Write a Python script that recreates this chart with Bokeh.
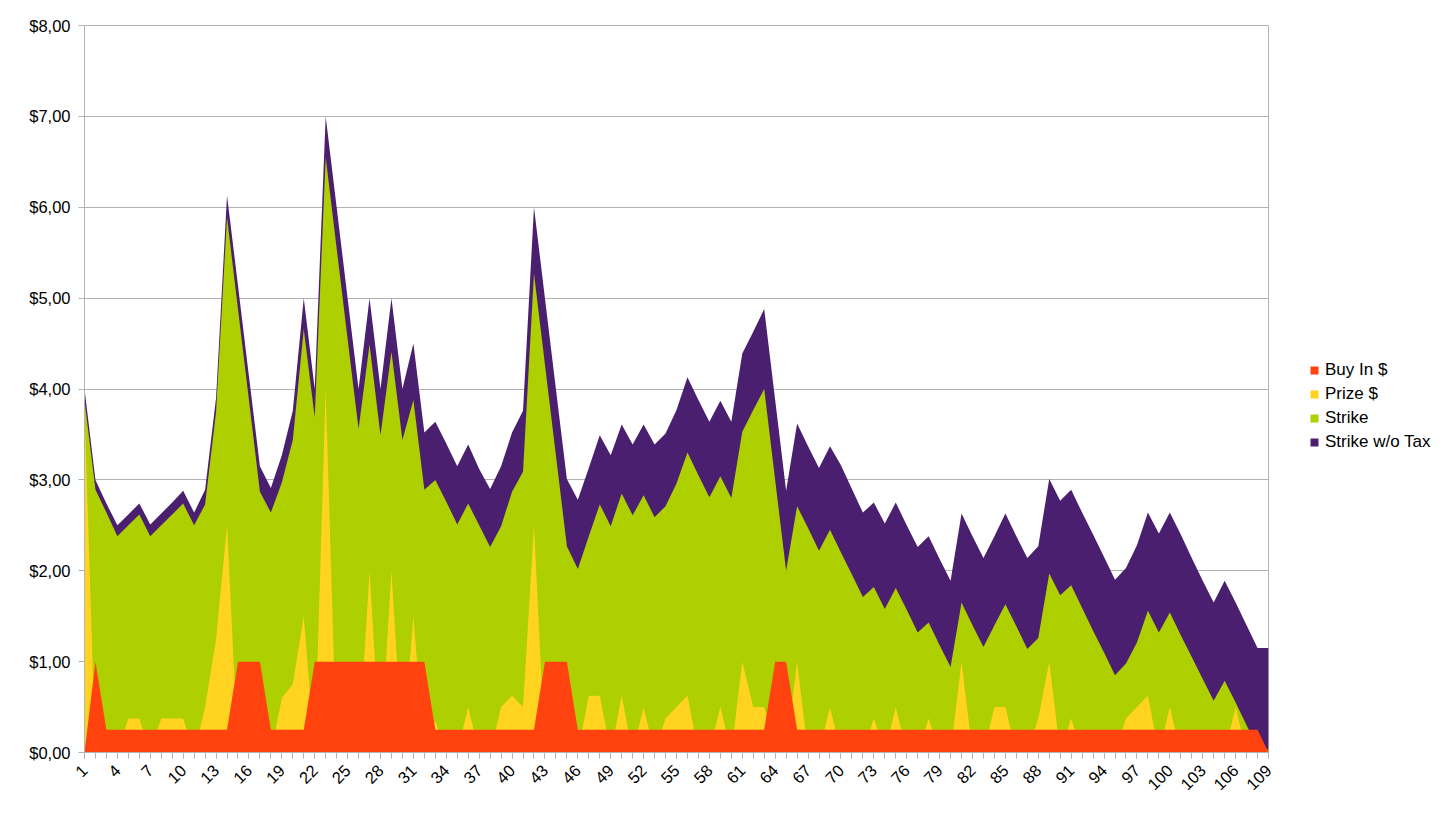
from bokeh.plotting import figure
from bokeh.models import Range1d, FixedTicker, Legend, LegendItem
from bokeh.embed import file_html
from bokeh.resources import INLINE
import math

categories = list(range(1, 110))

x_tick_positions = [1, 4, 7, 10, 13, 16, 19, 22, 25, 28, 31, 34, 37, 40, 43, 46, 49, 52, 55,
                    58, 61, 64, 67, 70, 73, 76, 79, 82, 85, 88, 91, 94, 97, 100, 103, 106, 109]
y_tick_values = [0, 1, 2, 3, 4, 5, 6, 7, 8]
y_tick_labels = ["$0,00", "$1,00", "$2,00", "$3,00", "$4,00", "$5,00", "$6,00", "$7,00", "$8,00"]

strike_wo_tax = [
    4.00, 3.00, 2.74, 2.50, 2.62, 2.74, 2.51, 2.63, 2.75, 2.88,
    2.64, 2.89, 3.90, 6.13, 5.14, 4.14, 3.15, 2.91, 3.27, 3.76,
    5.00, 4.00, 7.00, 6.00, 5.00, 4.00, 5.00, 4.00, 5.00, 4.00,
    4.50, 3.52, 3.64, 3.40, 3.15, 3.39, 3.12, 2.90, 3.15, 3.52,
    3.76, 6.00, 5.00, 4.00, 3.01, 2.78, 3.13, 3.49, 3.27, 3.61,
    3.39, 3.61, 3.39, 3.51, 3.77, 4.13, 3.88, 3.64, 3.87, 3.64,
    4.39, 4.63, 4.88, 3.88, 2.88, 3.62, 3.37, 3.13, 3.37, 3.16,
    2.90, 2.64, 2.75, 2.52, 2.75, 2.50, 2.26, 2.38, 2.13, 1.89,
    2.63, 2.38, 2.14, 2.38, 2.63, 2.38, 2.14, 2.27, 3.01, 2.77,
    2.89, 2.64, 2.40, 2.15, 1.90, 2.03, 2.28, 2.64, 2.41, 2.64,
    2.40, 2.14, 1.89, 1.65, 1.89, 1.65, 1.40, 1.15, 1.15,
]

strike = [
    3.87, 2.89, 2.64, 2.38, 2.50, 2.62, 2.38, 2.50, 2.62, 2.74,
    2.50, 2.73, 3.75, 5.89, 4.88, 3.88, 2.87, 2.64, 2.97, 3.44,
    4.66, 3.69, 6.55, 5.55, 4.55, 3.56, 4.49, 3.49, 4.41, 3.44,
    3.88, 2.89, 3.00, 2.76, 2.51, 2.74, 2.50, 2.26, 2.49, 2.87,
    3.09, 5.27, 4.27, 3.27, 2.27, 2.02, 2.38, 2.73, 2.49, 2.85,
    2.61, 2.83, 2.59, 2.71, 2.96, 3.30, 3.05, 2.81, 3.04, 2.80,
    3.53, 3.77, 4.00, 3.00, 2.00, 2.71, 2.47, 2.22, 2.45, 2.20,
    1.96, 1.71, 1.82, 1.58, 1.81, 1.57, 1.32, 1.43, 1.18, 0.94,
    1.65, 1.40, 1.16, 1.40, 1.63, 1.39, 1.14, 1.26, 1.97, 1.73,
    1.84, 1.59, 1.34, 1.10, 0.85, 0.98, 1.21, 1.56, 1.32, 1.54,
    1.29, 1.05, 0.81, 0.57, 0.79, 0.55, 0.30, 0.06, 0.03,
]

prize = [
    3.80, 0.00, 0.00, 0.00, 0.375, 0.375, 0.00, 0.375, 0.375, 0.375,
    0.00, 0.50, 1.25, 2.50, 0.00, 0.00, 0.00, 0.00, 0.60, 0.75,
    1.50, 0.00, 4.00, 0.00, 0.00, 0.00, 2.00, 0.00, 2.00, 0.00,
    1.50, 0.00, 0.35, 0.00, 0.00, 0.50, 0.00, 0.00, 0.50, 0.625,
    0.50, 2.50, 0.00, 0.00, 0.00, 0.00, 0.625, 0.625, 0.00, 0.625,
    0.00, 0.50, 0.00, 0.375, 0.50, 0.625, 0.00, 0.00, 0.50, 0.00,
    1.00, 0.50, 0.50, 0.00, 0.00, 1.00, 0.00, 0.00, 0.50, 0.00,
    0.00, 0.00, 0.375, 0.00, 0.50, 0.00, 0.00, 0.375, 0.00, 0.00,
    1.00, 0.00, 0.00, 0.50, 0.50, 0.00, 0.00, 0.375, 1.00, 0.00,
    0.375, 0.00, 0.00, 0.00, 0.00, 0.375, 0.50, 0.625, 0.00, 0.50,
    0.00, 0.00, 0.00, 0.00, 0.00, 0.50, 0.00, 0.00, 0.02,
]

buy_in = [
    0.00, 1.00, 0.25, 0.25, 0.25, 0.25, 0.25, 0.25, 0.25, 0.25,
    0.25, 0.25, 0.25, 0.25, 1.00, 1.00, 1.00, 0.25, 0.25, 0.25,
    0.25, 1.00, 1.00, 1.00, 1.00, 1.00, 1.00, 1.00, 1.00, 1.00,
    1.00, 1.00, 0.25, 0.25, 0.25, 0.25, 0.25, 0.25, 0.25, 0.25,
    0.25, 0.25, 1.00, 1.00, 1.00, 0.25, 0.25, 0.25, 0.25, 0.25,
    0.25, 0.25, 0.25, 0.25, 0.25, 0.25, 0.25, 0.25, 0.25, 0.25,
    0.25, 0.25, 0.25, 1.00, 1.00, 0.25, 0.25, 0.25, 0.25, 0.25,
    0.25, 0.25, 0.25, 0.25, 0.25, 0.25, 0.25, 0.25, 0.25, 0.25,
    0.25, 0.25, 0.25, 0.25, 0.25, 0.25, 0.25, 0.25, 0.25, 0.25,
    0.25, 0.25, 0.25, 0.25, 0.25, 0.25, 0.25, 0.25, 0.25, 0.25,
    0.25, 0.25, 0.25, 0.25, 0.25, 0.25, 0.25, 0.25, 0.00,
]

series_names = ["Buy In $", "Prize $", "Strike", "Strike w/o Tax"]
colors = {"Buy In $": "#ff420e", "Prize $": "#ffd320", "Strike": "#aecf00", "Strike w/o Tax": "#4b1f6f"}

FONT = "Liberation Sans"
GRID = "#b3b3b3"

p = figure(
    x_range=Range1d(1, 109), y_range=Range1d(0, 8),
    frame_width=1184, frame_height=727,
    min_border_left=84, min_border_top=25, min_border_right=170, min_border_bottom=56,
    output_backend="svg", toolbar_location=None,
)
p.background_fill_color = "white"
p.border_fill_color = "white"
p.outline_line_color = GRID

r_purple = p.varea(x=categories, y1=0, y2=strike_wo_tax, fill_color=colors["Strike w/o Tax"])
r_green = p.varea(x=categories, y1=0, y2=strike, fill_color=colors["Strike"])
r_yellow = p.varea(x=categories, y1=0, y2=prize, fill_color=colors["Prize $"])
r_red = p.varea(x=categories, y1=0, y2=buy_in, fill_color=colors["Buy In $"])

# grid
p.xgrid.grid_line_color = None
p.ygrid.grid_line_color = GRID
p.ygrid.grid_line_width = 1
p.ygrid.ticker = FixedTicker(ticks=y_tick_values)

# y axis
p.yaxis.ticker = FixedTicker(ticks=y_tick_values)
p.yaxis.major_label_overrides = {v: l for v, l in zip(y_tick_values, y_tick_labels)}
p.yaxis.axis_line_color = GRID
p.yaxis.major_tick_line_color = GRID
p.yaxis.major_tick_out = 6
p.yaxis.major_tick_in = 0
p.yaxis.minor_tick_line_color = None
p.yaxis.major_label_text_font = FONT
p.yaxis.major_label_text_font_size = "16.5px"
p.yaxis.major_label_text_color = "black"
p.yaxis.major_label_standoff = 8

# x axis
p.xaxis.ticker = FixedTicker(ticks=x_tick_positions, minor_ticks=categories)
p.xaxis.axis_line_color = GRID
p.xaxis.major_tick_line_color = GRID
p.xaxis.minor_tick_line_color = GRID
p.xaxis.major_tick_out = 6
p.xaxis.major_tick_in = 0
p.xaxis.minor_tick_out = 6
p.xaxis.minor_tick_in = 0
p.xaxis.major_label_orientation = math.pi / 4
p.xaxis.major_label_text_font = FONT
p.xaxis.major_label_text_font_size = "16.5px"
p.xaxis.major_label_text_color = "black"
p.xaxis.major_label_standoff = 9

renderers = {"Buy In $": r_red, "Prize $": r_yellow, "Strike": r_green, "Strike w/o Tax": r_purple}
legend = Legend(
    items=[LegendItem(label=n, renderers=[renderers[n]]) for n in series_names],
    location=(41, 300),
    border_line_color=None, background_fill_alpha=0,
    padding=0, margin=0, spacing=4,
    label_height=20, glyph_height=10, glyph_width=10, label_standoff=6,
    label_text_font=FONT, label_text_font_size="17px", label_text_color="black",
    label_text_baseline="middle",
)
p.add_layout(legend, "right")

open("out.html", "w").write(file_html(p, INLINE))
